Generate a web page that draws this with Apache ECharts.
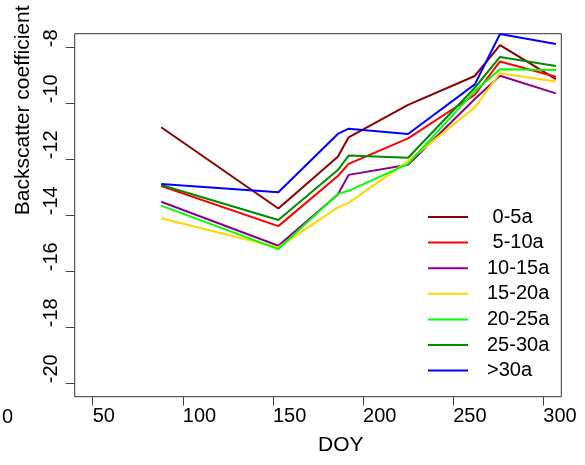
<!DOCTYPE html>
<html>
<head>
<meta charset="utf-8">
<script src="https://cdn.jsdelivr.net/npm/echarts@6/dist/echarts.min.js"></script>
<style>html,body{margin:0;padding:0;background:#fff}#c{width:585px;height:465px}</style>
</head>
<body>
<div id="c"></div>
<script>
var doy = [88, 153, 186, 192, 225, 262, 276, 307];
var seriesNames = [' 0-5a', ' 5-10a', '10-15a', '15-20a', '20-25a', '25-30a', '>30a'];
var a0_5   = [-10.86, -13.76, -11.91, -11.22, -10.06, -9.03, -7.93, -9.14];
var a5_10  = [-12.96, -14.39, -12.60, -12.17, -11.26, -9.70, -8.51, -9.06];
var a10_15 = [-13.52, -15.09, -13.26, -12.56, -12.20, -9.85, -9.02, -9.65];
var a15_20 = [-14.11, -15.15, -13.72, -13.56, -12.07, -10.15, -8.93, -9.23];
var a20_25 = [-13.66, -15.21, -13.24, -13.13, -12.17, -9.57, -8.79, -8.82];
var a25_30 = [-12.92, -14.17, -12.39, -11.87, -11.95, -9.45, -8.35, -8.67];
var a30    = [-12.89, -13.18, -11.10, -10.91, -11.10, -9.33, -7.53, -7.89];
var xTicks = [50, 100, 150, 200, 250, 300];
var yTicks = [-20, -18, -16, -14, -12, -10, -8];

var values = [a0_5, a5_10, a10_15, a15_20, a20_25, a25_30, a30];
var colors = ['#8B0000', '#FF0000', '#8B008B', '#FFD700', '#00FF00', '#008B00', '#0000FF'];
var FONT = "'Liberation Sans', Arial, sans-serif";

var series = values.map(function (v, i) {
  return {
    name: seriesNames[i],
    type: 'line',
    symbol: 'none',
    data: doy.map(function (d, j) { return [d, v[j]]; }),
    lineStyle: { color: colors[i], width: 2 },
    itemStyle: { color: colors[i] },
    animation: false
  };
});

var chart = echarts.init(document.getElementById('c'), null, { renderer: 'canvas' });
chart.setOption({
  backgroundColor: '#fff',
  animation: false,
  grid: { left: 74.7, top: 33.7, right: 23.7, bottom: 68.3, show: true, borderColor: '#333', borderWidth: 1, backgroundColor: 'transparent' },
  xAxis: {
    type: 'value', min: 40, max: 310,
    name: 'DOY', nameLocation: 'middle', nameGap: 38,
    nameTextStyle: { fontFamily: FONT, fontSize: 21, color: '#000', align: 'left', verticalAlign: 'top' },
    axisLine: { show: false },
    splitLine: { show: false },
    axisTick: { show: true, length: 9, lineStyle: { color: '#444' }, customValues: xTicks },
    axisLabel: { fontFamily: FONT, fontSize: 20, color: '#000', margin: 10, align: 'left', verticalAlign: 'top', customValues: xTicks }
  },
  yAxis: {
    type: 'value', min: -20.48, max: -7.52,
    name: 'Backscatter coefficient', nameLocation: 'middle', nameGap: 39, nameRotate: 90,
    nameTextStyle: { fontFamily: FONT, fontSize: 21, color: '#000', align: 'left', verticalAlign: 'bottom' },
    axisLine: { show: false },
    splitLine: { show: false },
    axisTick: { show: true, length: 9, lineStyle: { color: '#444' }, customValues: yTicks },
    axisLabel: { fontFamily: FONT, fontSize: 20, color: '#000', margin: 13, rotate: 90, align: 'left', verticalAlign: 'bottom', customValues: yTicks }
  },
  legend: {
    orient: 'vertical', left: 428, top: 207, padding: 0,
    icon: 'rect',
    itemWidth: 40, itemHeight: 2, itemGap: 5.6,
    data: seriesNames,
    textStyle: { fontFamily: FONT, fontSize: 20, color: '#000', lineHeight: 20, padding: [0, 0, 0, 14] }
  },
  graphic: [{
    type: 'text', left: 2, top: 407,
    style: { text: '0', font: "20px 'Liberation Sans', Arial, sans-serif", fill: '#000' }
  }],
  series: series
});
</script>
</body>
</html>
